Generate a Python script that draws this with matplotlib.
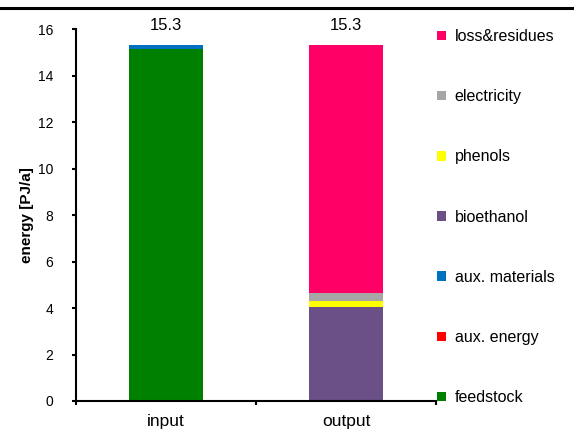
import matplotlib.pyplot as plt
from matplotlib.patches import Patch
from matplotlib.lines import Line2D

plt.rcParams['font.family'] = ['Liberation Sans', 'DejaVu Sans']

# data (PJ/a)
categories = ['input', 'output']
series = ['feedstock', 'aux. energy', 'aux. materials', 'bioethanol',
          'phenols', 'electricity', 'loss&residues']
values = {
    'feedstock':      [15.12, 0.0],
    'aux. energy':    [0.0, 0.0],
    'aux. materials': [0.18, 0.0],
    'bioethanol':     [0.0, 4.03],
    'phenols':        [0.0, 0.27],
    'electricity':    [0.0, 0.33],
    'loss&residues':  [0.0, 10.67],
}
totals = [15.3, 15.3]
colors = {
    'feedstock': '#008000',
    'aux. energy': '#FF0000',
    'aux. materials': '#0070C0',
    'bioethanol': '#6A5086',
    'phenols': '#FFFF00',
    'electricity': '#A6A6A6',
    'loss&residues': '#FF0066',
}

fig = plt.figure(figsize=(5.74, 4.34), dpi=100)
ax = fig.add_axes([76 / 574, 1 - 401 / 434, 360 / 574, 372 / 434])

x = list(range(len(categories)))
bottom = [0.0] * len(categories)
for name in series:
    vals = values[name]
    ax.bar(x, vals, width=0.41, bottom=bottom, color=colors[name], linewidth=0)
    bottom = [b + v for b, v in zip(bottom, vals)]

# total labels above each bar
for xi, t in zip(x, totals):
    ax.annotate(f'{t:.1f}', (xi, t), xytext=(0, 9), textcoords='offset points',
                ha='center', va='bottom', fontsize=12, annotation_clip=False)

ax.set_xlim(-0.5, 1.5)
ax.set_ylim(0, 16)
ax.set_yticks(range(0, 17, 2))
ax.tick_params(axis='y', direction='out', length=3, width=1.5, labelsize=10, pad=13.5)
ax.set_xticks([-0.5, 0.5, 1.5])
ax.set_xticklabels([])
ax.tick_params(axis='x', direction='out', length=3, width=1.5)
for xi, cat in zip(x, categories):
    ax.annotate(cat, (xi, 0), xytext=(0, -9.5), textcoords='offset points',
                ha='center', va='top', fontsize=12.5, annotation_clip=False)

ax.spines['top'].set_visible(False)
ax.spines['right'].set_visible(False)
ax.spines['left'].set_linewidth(1.5)
ax.spines['bottom'].set_linewidth(1.5)
ax.set_ylabel('energy [PJ/a]', fontsize=11, fontweight='bold', labelpad=2.5)

# legend, stacked order reversed (top entry = top segment)
handles = [Patch(facecolor=colors[n], edgecolor='none', label=n) for n in reversed(series)]
fig.legend(handles=handles, loc='upper left', bbox_to_anchor=(437 / 574, 1 - 29 / 434),
           frameon=False, fontsize=11.5, handlelength=0.55, handleheight=0.55,
           handletextpad=0.55, labelspacing=2.83, borderpad=0, borderaxespad=0)

# top border line of the original image
fig.add_artist(Line2D([0, 1], [1 - 8 / 434, 1 - 8 / 434], transform=fig.transFigure,
                      color='black', linewidth=2.2))

fig.savefig('out.png', dpi=100)
